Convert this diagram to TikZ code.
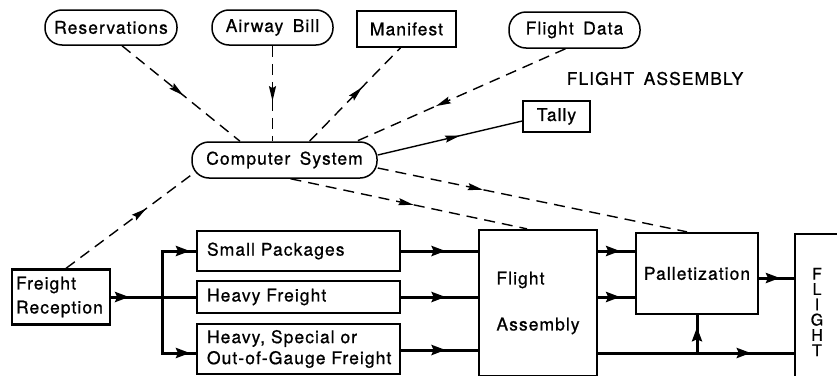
\documentclass[tikz,border=0pt]{standalone}
\usepackage{fontspec}
\setmainfont{TeX Gyre Heros}[LetterSpace=6,WordSpace=1.6,FakeBold=0.8]
\usetikzlibrary{arrows.meta,decorations.markings}
\tikzset{
  data pill/.style={draw, line width=1.5pt, rounded corners=17pt, minimum height=35pt, inner sep=0pt},
  data box/.style={draw, line width=1.5pt, minimum height=35pt, inner sep=0pt},
  stage box/.style={draw, line width=2.3pt, inner xsep=9pt, inner ysep=0pt, align=left},
  flow line/.style={line width=3pt},
  info line/.style={line width=1.4pt, dash pattern=on 11pt off 7pt},
  mid arrow/.style={decoration={markings, mark=at position #1 with {\arrow[solid]{Stealth[length=14pt,width=10pt,inset=2pt]}}}, postaction={decorate}},
  info arrow/.style={decoration={markings, mark=at position #1 with {\arrow[solid]{Stealth[length=15pt,width=7pt,inset=2pt]}}}, postaction={decorate}},
}

\begin{document}
\begin{tikzpicture}[x=1pt, y=-1pt, every node/.style={font=\fontsize{17.5}{21}\selectfont}]
  \clip (0,0) rectangle (837,375);
  \node[data pill, minimum width=132pt] (res) at (111,27.5) {Reservations};
  \node[data pill, minimum width=121pt] (awb) at (272.5,27.5) {Airway Bill};
  \node[data box, minimum width=99pt, minimum height=36pt] (man) at (406.5,29) {Manifest};
  \node[data pill, minimum width=131pt, minimum height=36pt] (fdat) at (574.5,30) {Flight Data};
  \node (title) at (655,78.5) {FLIGHT ASSEMBLY};
  \node[data box, minimum width=67pt, minimum height=31pt] (tally) at (556.5,116.5) {Tally};
  \node[data pill, minimum width=185pt, minimum height=36pt] (cs) at (284.5,160) {Computer System};

  \node[stage box, text width=90pt, inner xsep=4pt, minimum height=55pt] (fr) at (61,297) {Freight\\[3pt]Reception};
  \node[stage box, text width=183pt, inner xsep=10pt, minimum height=40pt] (sp) at (298.5,251) {Small Packages};
  \node[stage box, text width=183pt, inner xsep=10pt, minimum height=32pt] (hf) at (298.5,297) {Heavy Freight};
  \node[stage box, text width=183pt, inner xsep=10pt, minimum height=50pt] (hs) at (298.5,349) {Heavy, Special or\\Out-of-Gauge Freight};
  \node[stage box, inner xsep=0pt, minimum width=118pt, minimum height=146pt] (fa) at (538,303) {Flight\\[25pt]Assembly};
  \node[stage box, inner xsep=0pt, align=center, minimum width=122pt, minimum height=81pt] (pal) at (697,273.5) {Palletization};
  \node[stage box, inner xsep=0pt, align=center, minimum width=44pt, minimum height=156pt,
        font=\fontsize{16}{15.3}\selectfont] (fl) at (817,312) {F\\L\\I\\G\\H\\T};

  \coordinate (bus) at (162,297);
  \coordinate (hs in) at ([yshift=-4pt]hs.west);
  \coordinate (hs out) at ([yshift=-1pt]hs.east);
  \coordinate (pal out) at ([yshift=-4.5pt]pal.east);

  \draw[flow line, mid arrow=18pt] (fr.east) -- (hf.west);
  \draw[flow line, mid arrow=74pt] (bus) -- (bus |- sp.west) -- (sp.west);
  \draw[flow line, mid arrow=84pt] (bus) -- (bus |- hs in) -- (hs in);
  \draw[flow line, mid arrow=0.58] (sp.east) -- (sp.east -| fa.west);
  \draw[flow line, mid arrow=0.58] (hf.east) -- (hf.east -| fa.west);
  \draw[flow line, mid arrow=0.58] (hs out) -- (hs out -| fa.west);
  \draw[flow line, mid arrow=0.6] (sp.east -| fa.east) -- (sp.east -| pal.west);
  \draw[flow line, mid arrow=0.6] (hf.east -| fa.east) -- (hf.east -| pal.west);
  \draw[flow line, mid arrow=0.6] (pal out) -- (pal out -| fl.west);
  \draw[flow line, mid arrow=0.78] (fa.east |- hs in) -- (fl.west |- hs in);
  \draw[flow line, mid arrow=0.68] (pal.south |- hs in) -- (pal.south);

  \draw[info line, info arrow=0.52] ([xshift=11pt]res.south) -- ([xshift=-44.5pt]cs.north);
  \draw[info line, info arrow=0.58] (awb.south) -- ([xshift=-12pt]cs.north);
  \draw[info line, info arrow=0.58] ([xshift=25pt]cs.north) -- ([xshift=-6pt]man.south);
  \draw[info line, info arrow=0.62] ([xshift=-9pt]fdat.south) -- ([xshift=72pt]cs.north);
  \draw[line width=1.4pt, info arrow=0.57] ([yshift=5pt]cs.east) -- ([yshift=-4.5pt]tally.west);
  \draw[info line, info arrow=0.34] ([yshift=-8pt]cs.east) -- ([xshift=-10pt]pal.north);
  \draw[info line, info arrow=0.52] ([xshift=6pt]cs.south) -- ([xshift=-11pt]fa.north);
  \draw[info line, info arrow=0.62] ([xshift=5pt]fr.north) -- ([xshift=4pt,yshift=-12pt]cs.west);
\end{tikzpicture}
\end{document}
